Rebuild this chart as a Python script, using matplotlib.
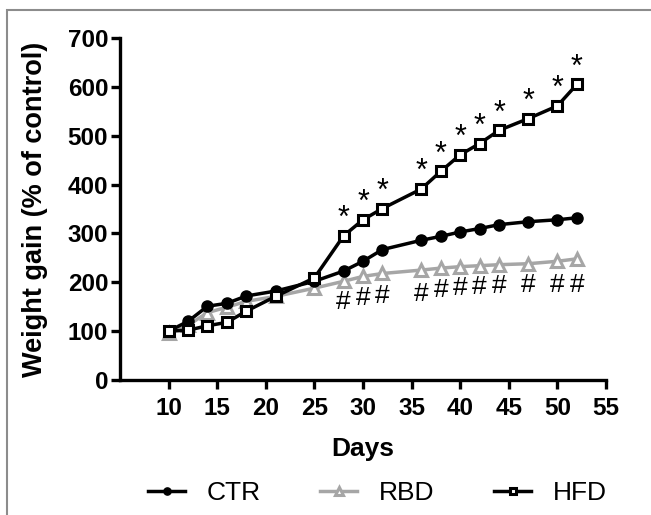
import matplotlib
matplotlib.use("Agg")
import matplotlib.pyplot as plt
from matplotlib.patches import Rectangle

plt.rcParams['font.family'] = ['Liberation Sans', 'DejaVu Sans']

days = [10, 12, 14, 16, 18, 21, 25, 28, 30, 32, 36, 38, 40, 42, 44, 47, 50, 52]
ctr = [100, 120, 151, 157, 172, 182, 202, 223, 243, 267, 286, 294, 303, 310, 318, 324, 328, 332]
rbd = [96, 112, 138, 149, 161, 171, 188, 202, 212, 218, 225, 229, 232, 234, 236, 238, 243, 248]
hfd = [100, 102, 111, 118, 141, 171, 209, 295, 328, 351, 391, 427, 461, 484, 511, 535, 561, 605]

sig_days = [28, 30, 32, 36, 38, 40, 42, 44, 47, 50, 52]
star_y = [295, 328, 351, 391, 427, 461, 484, 511, 535, 561, 605]
hash_y = [160, 167, 171, 177, 184, 188, 190, 193, 195, 195, 195]

xticks = [10, 15, 20, 25, 30, 35, 40, 45, 50, 55]
yticks = [0, 100, 200, 300, 400, 500, 600, 700]

gray = '#a6a6a6'

fig = plt.figure(figsize=(6.51, 5.15), dpi=100)
ax = fig.add_axes([120/651, 1-380/515, (606-120)/651, (380-38)/515])

ax.plot(days, rbd, color=gray, lw=2.5, marker='^', ms=8, mfc='white', mec=gray, mew=2.2, label='RBD', zorder=3)
ax.plot(days, ctr, color='black', lw=2.5, marker='o', ms=8, mfc='black', mec='black', label='CTR', zorder=4)
ax.plot(days, hfd, color='black', lw=2.5, marker='s', ms=7.5, mfc='white', mec='black', mew=2.2, label='HFD', zorder=5)

for d, y in zip(sig_days, star_y):
    ax.annotate('*', (d, y), xytext=(0, 12), textcoords='offset points',
                ha='center', va='center', fontsize=22)
for d, y in zip(sig_days, hash_y):
    ax.text(d, y, '#', ha='center', va='center', fontsize=19)

ax.set_xlim(5, 55)
ax.set_ylim(0, 700)
ax.set_xticks(xticks)
ax.set_yticks(yticks)
for s in ['top', 'right']:
    ax.spines[s].set_visible(False)
for s in ['left', 'bottom']:
    ax.spines[s].set_linewidth(2.4)
ax.tick_params(axis='both', width=2.4, length=6.5, labelsize=17.5)
for lab in ax.get_xticklabels() + ax.get_yticklabels():
    lab.set_fontweight('bold')
ax.tick_params(axis='x', pad=6)
ax.tick_params(axis='y', pad=2)
ax.set_xlabel('Days', fontsize=19, fontweight='bold', labelpad=12)
ax.set_ylabel('Weight gain (% of control)', fontsize=19.5, fontweight='bold', labelpad=14)

h, l = ax.get_legend_handles_labels()
order = [1, 0, 2]
fig.legend([h[i] for i in order], [l[i] for i in order], loc='center',
           bbox_to_anchor=(0.58, 0.043), ncol=3, frameon=False, fontsize=19,
           markerscale=0.65, handlelength=1.4, columnspacing=2.25, handletextpad=0.83)

fig.patches.append(Rectangle((7/651, -0.5), 2, 0.5 + 1 - 10/515, transform=fig.transFigure,
                             fill=False, edgecolor='#8c8c8c', lw=1.5, zorder=0))

fig.savefig('out.png', dpi=100)
